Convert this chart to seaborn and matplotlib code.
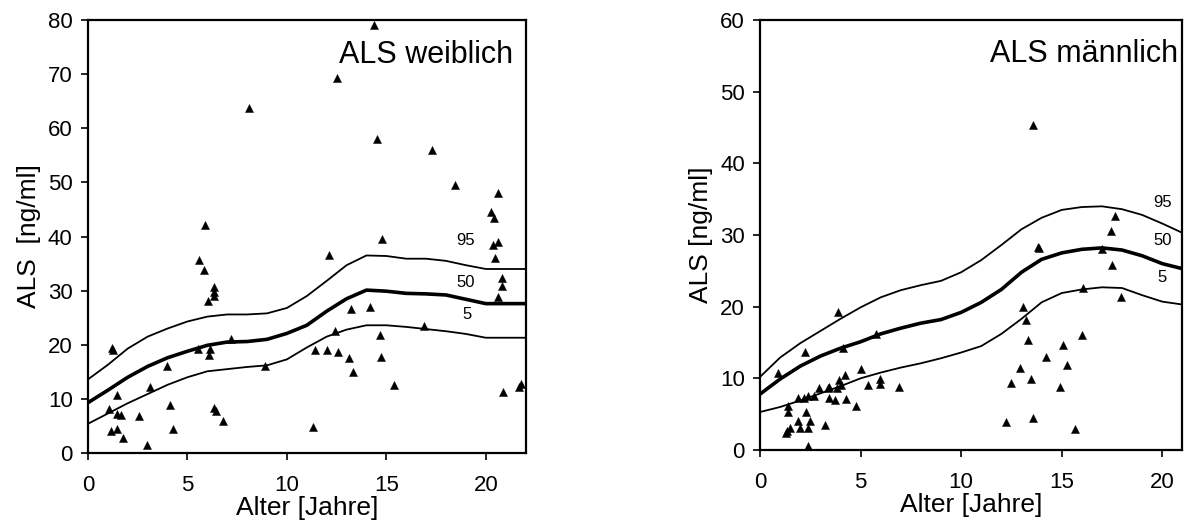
import numpy as np
import pandas as pd
import matplotlib
matplotlib.use("Agg")
import matplotlib.pyplot as plt
import seaborn as sns

# ---------------- data ----------------
# female (weiblich) measurements
f_age = [1.20, 1.25, 1.44, 1.04, 1.45, 1.65, 1.17, 1.47, 1.77, 2.57, 2.97, 3.12, 3.97, 4.10, 4.30,
         8.10, 5.89, 5.60, 5.82, 6.35, 6.35, 6.35, 6.03, 5.55, 6.13, 6.08, 7.20, 8.90, 6.35, 6.42, 6.77,
         14.40, 12.52, 14.51, 17.28, 18.45, 20.61, 20.28, 20.40, 14.79, 12.14, 20.34, 20.63, 20.46,
         20.80, 20.82, 20.61, 13.23, 14.20, 12.40, 16.88, 14.66, 11.42, 12.00, 12.55, 13.10, 14.75,
         13.30, 15.37, 11.33, 20.86, 21.67, 21.78]
f_als = [19.4, 19.0, 10.8, 8.1, 7.2, 7.0, 4.1, 4.5, 2.8, 6.9, 1.5, 12.2, 16.1, 8.8, 4.4,
         63.8, 42.2, 35.6, 33.8, 30.6, 29.8, 29.1, 28.1, 19.2, 19.3, 18.1, 21.0, 16.0, 8.3, 7.7, 6.0,
         79.0, 69.2, 58.0, 55.9, 49.6, 48.1, 44.6, 43.5, 39.6, 36.5, 38.4, 38.9, 36.0,
         32.3, 30.8, 28.9, 26.6, 27.0, 22.6, 23.4, 21.8, 19.1, 19.0, 18.7, 17.6, 17.7,
         14.9, 12.5, 4.9, 11.3, 12.2, 12.8]

# female percentile curves
f_curve_age = [0, 1, 2, 3, 4, 5, 6, 7, 8, 9, 10, 11, 12, 13, 14, 15, 16, 17, 18, 19, 20, 22]
f_p95 = [13.6, 16.3, 19.3, 21.5, 23.0, 24.3, 25.2, 25.6, 25.6, 25.8, 26.8, 29.0, 31.8, 34.7, 36.5,
         36.4, 35.9, 35.9, 35.5, 34.7, 34.0, 34.0]
f_p50 = [9.3, 11.6, 14.0, 16.0, 17.6, 18.8, 19.9, 20.5, 20.6, 21.0, 22.1, 23.6, 26.2, 28.5, 30.1,
         29.9, 29.5, 29.4, 29.2, 28.4, 27.6, 27.6]
f_p5 = [5.4, 7.3, 9.2, 10.9, 12.6, 14.0, 15.1, 15.5, 15.9, 16.2, 17.3, 19.5, 21.5, 22.8, 23.6,
        23.6, 23.3, 22.9, 22.5, 22.0, 21.3, 21.3]

# male (männlich) measurements
m_age = [0.88, 1.28, 1.34, 1.49, 1.38, 1.38, 1.89, 1.97, 1.87, 2.21, 2.37, 2.24, 2.27, 2.47, 2.40,
         2.39, 2.67, 2.95, 3.23, 3.45, 3.45, 3.38, 3.72, 3.81, 3.93, 4.01, 3.90, 4.15, 4.23, 4.29,
         4.78, 5.04, 5.37, 5.79, 5.97, 5.97, 6.92,
         13.57, 17.66, 17.45, 13.80, 13.87, 17.00, 17.48, 16.05, 17.94, 13.10, 13.20, 16.02, 13.32,
         15.06, 14.21, 15.27, 12.95, 12.49, 13.48, 14.91, 12.22, 13.58, 15.66]
m_als = [10.8, 2.4, 2.7, 3.0, 6.1, 5.3, 4.1, 3.0, 7.3, 7.2, 7.5, 13.7, 5.3, 4.1, 3.1,
         0.6, 7.5, 8.7, 3.5, 7.3, 8.8, 8.7, 7.0, 8.7, 9.8, 9.0, 19.3, 14.2, 10.5, 7.1,
         6.2, 11.3, 9.1, 16.2, 9.9, 9.2, 8.8,
         45.4, 32.7, 30.6, 28.3, 28.2, 28.1, 25.8, 22.6, 21.4, 19.9, 18.2, 16.0, 15.3,
         14.6, 13.0, 11.8, 11.4, 9.3, 9.9, 8.8, 3.9, 4.5, 2.9]

# male percentile curves
m_curve_age = [0, 1, 2, 3, 4, 5, 6, 7, 8, 9, 10, 11, 12, 13, 14, 15, 16, 17, 18, 19, 20, 21]
m_p95 = [10.2, 12.9, 14.9, 16.6, 18.3, 19.9, 21.3, 22.3, 23.0, 23.6, 24.8, 26.5, 28.6, 30.8, 32.4,
         33.5, 33.9, 34.0, 33.6, 32.8, 31.6, 30.3]
m_p50 = [7.8, 9.9, 11.7, 13.1, 14.2, 15.1, 16.2, 17.0, 17.7, 18.2, 19.2, 20.6, 22.4, 24.8, 26.6,
         27.5, 28.0, 28.2, 27.9, 27.1, 26.0, 25.3]
m_p5 = [5.3, 6.0, 6.9, 7.9, 8.9, 10.0, 10.8, 11.5, 12.1, 12.8, 13.6, 14.5, 16.2, 18.3, 20.6,
        21.9, 22.4, 22.7, 22.6, 21.6, 20.7, 20.3]

pct_labels = ["95", "50", "5"]
x_ticks = [0, 5, 10, 15, 20]
xlabel = "Alter [Jahre]"

# ---------------- style ----------------
sns.set_style("white")
plt.rcParams['font.family'] = ['Liberation Sans', 'DejaVu Sans']
plt.rcParams.update({"text.color": "black", "axes.labelcolor": "black",
                     "xtick.color": "black", "ytick.color": "black"})

fig = plt.figure(figsize=(11.87, 5.25), dpi=100)
ax1 = fig.add_axes([0.0741, 0.1371, 0.3687, 0.8248])
ax2 = fig.add_axes([0.6403, 0.1429, 0.3558, 0.8190])


def draw(ax, age, als, cx, p95, p50, p5, xmax, ymax, title, ylabel, lab_pos, title_pos):
    sns.lineplot(x=cx, y=p95, ax=ax, color="black", linewidth=1.3, sort=True)
    sns.lineplot(x=cx, y=p50, ax=ax, color="black", linewidth=2.6, sort=True)
    sns.lineplot(x=cx, y=p5, ax=ax, color="black", linewidth=1.3, sort=True)
    sns.scatterplot(x=age, y=als, ax=ax, marker="^", s=34, color="black",
                    edgecolor="black", linewidth=0.3, zorder=3)
    for lab, (lx, ly) in zip(pct_labels, lab_pos):
        ax.text(lx, ly, lab, fontsize=12, ha="center", va="center", color="black")
    ax.text(title_pos[0], title_pos[1], title, fontsize=22, ha="right", va="baseline",
            color="black")
    ax.set_xlim(0, xmax)
    ax.set_ylim(0, ymax)
    ax.set_xticks(x_ticks)
    ax.set_yticks(np.arange(0, ymax + 1, 10))
    ax.set_xlabel(xlabel, fontsize=19, labelpad=0, color="black")
    ax.set_ylabel(ylabel, fontsize=19, labelpad=5, color="black")
    ax.tick_params(direction="out", length=5, width=1.2, labelsize=16,
                   bottom=True, left=True, colors="black")
    ax.tick_params(axis="x", pad=11)
    ax.tick_params(axis="y", pad=6)
    for sp in ax.spines.values():
        sp.set_color("black")
        sp.set_linewidth(1.6)


draw(ax1, f_age, f_als, f_curve_age, f_p95, f_p50, f_p5, 22, 80,
     "ALS weiblich", "ALS  [ng/ml]",
     [(19.0, 39.2), (19.0, 31.5), (19.05, 25.6)], (21.35, 72.0))
draw(ax2, m_age, m_als, m_curve_age, m_p95, m_p50, m_p5, 21, 60,
     "ALS männlich", "ALS [ng/ml]",
     [(20.0, 34.5), (20.0, 29.3), (20.0, 24.1)], (20.8, 54.2))

fig.savefig("out.png", dpi=100)
